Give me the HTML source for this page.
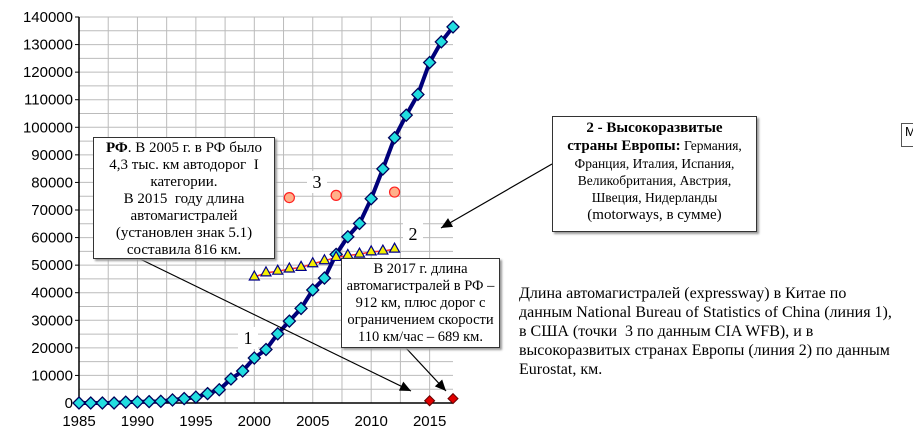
<!DOCTYPE html>
<html><head><meta charset="utf-8"><style>
body{margin:0;background:#fff;width:913px;height:438px;overflow:hidden;position:relative;font-family:"Liberation Serif",serif}
.box{position:absolute;border:1.5px solid #333;background:#fff;text-align:center;font-size:15px;line-height:17px;box-shadow:2px 2px 2px #999;white-space:nowrap}
</style></head><body>
<svg width="913" height="438" style="position:absolute;left:0;top:0">
<g id="grid"></g><g id="axes"></g><g id="series"></g><g id="arrows"></g>
</svg>
<div class="box" style="left:93px;top:137px;width:180px;height:118px;padding-top:2px"><b>РФ</b>. В 2005 г. в РФ было<br>4,3 тыс. км автодорог&nbsp; I<br>категории.<br>В 2015&nbsp; году длина<br>автомагистралей<br>(установлен знак 5.1)<br>составила 816 км.</div>
<div class="box" style="left:341px;top:258px;width:157px;height:86px;padding-top:2px;font-size:14.5px">В 2017 г. длина<br>автомагистралей в РФ –<br>912 км, плюс дорог с<br>ограничением скорости<br>110 км/час – 689 км.</div>
<div class="box" style="left:552px;top:116px;width:203px;height:112px;padding-top:2px;font-size:13.5px"><b style="font-size:15px">2 - Высокоразвитые</b><br><b style="font-size:15px">страны Европы:</b> Германия,<br>Франция, Италия, Испания,<br>Великобритания, Австрия,<br>Швеция, Нидерланды<br><span style="font-size:15px">(motorways, в сумме)</span></div>
<div style="position:absolute;left:519px;top:284px;width:400px;font-size:16px;line-height:19px;white-space:nowrap">Длина автомагистралей (expressway) в Китае по<br>данным National Bureau of Statistics of China (линия 1),<br>в США (точки&nbsp; 3 по данным CIA WFB), и в<br>высокоразвитых странах Европы (линия 2) по данным<br>Eurostat, км.</div>
<div style="position:absolute;left:901px;top:123px;width:20px;height:22px;border:1px solid #555;font-family:'Liberation Sans',sans-serif;font-size:13px;padding-left:3px">M</div>
<script>
const chinaYears=[1985,1986,1987,1988,1989,1990,1991,1992,1993,1994,1995,1996,1997,1998,1999,2000,2001,2002,2003,2004,2005,2006,2007,2008,2009,2010,2011,2012,2013,2014,2015,2016,2017];
const chinaValues=[0,0,0,0,300,400,500,600,1100,1600,2100,3400,4800,8700,11600,16300,19400,25100,29700,34300,41000,45300,53900,60300,65100,74100,84900,96200,104400,111900,123500,131000,136400];
const euroYears=[2000,2001,2002,2003,2004,2005,2006,2007,2008,2009,2010,2011,2012];
const euroValues=[45700,47200,47800,48600,49200,50500,51600,52800,53500,54000,54800,55100,55800];
const usYears=[2003,2007,2012];
const usValues=[74500,75300,76500];
const rfYears=[2015,2017];
const rfValues=[816,1601];
const xTicks=[1985,1990,1995,2000,2005,2010,2015];
const yTicks=[0,10000,20000,30000,40000,50000,60000,70000,80000,90000,100000,110000,120000,130000,140000];
const NS="http://www.w3.org/2000/svg";
const X0=79,X1=453,Y0=403,Y1=17;
const x=v=>X0+(v-1985)/(2017-1985)*(X1-X0);
const y=v=>Y0-v/140000*(Y0-Y1);
function mk(p,t,a){const e=document.createElementNS(NS,t);for(const k in a)e.setAttribute(k,a[k]);document.getElementById(p).appendChild(e);return e;}
for(let v=0;v<=140000;v+=5000){const e=mk('grid','line',{x1:X0,x2:X1,y1:y(v),y2:y(v),stroke:'#bbb','stroke-width':1});

}
for(let v=1985;v<=2017;v+=2.5){const e=mk('grid','line',{x1:x(v),x2:x(v),y1:Y1,y2:Y0,stroke:'#bbb','stroke-width':1});

}
mk('axes','line',{x1:X0,x2:X0,y1:Y1,y2:Y0,stroke:'#000','stroke-width':1.5});
mk('axes','line',{x1:X0,x2:X1,y1:Y0,y2:Y0,stroke:'#000','stroke-width':1.5});
yTicks.forEach(v=>{const t=mk('axes','text',{x:X0-6,y:y(v)+5,'text-anchor':'end','font-size':15,'font-family':'Liberation Sans,sans-serif'});t.textContent=v;


mk('axes','line',{x1:X0-4,x2:X0,y1:y(v),y2:y(v),stroke:'#000'});});
xTicks.forEach(v=>{const t=mk('axes','text',{x:x(v),y:Y0+23,'text-anchor':'middle','font-size':15,'font-family':'Liberation Sans,sans-serif'});t.textContent=v;

});
const cl=mk('series','polyline',{points:chinaYears.map((d,i)=>x(d)+','+y(chinaValues[i])).join(' '),fill:'none',stroke:'#00007a','stroke-width':4,'stroke-linejoin':'round'});


chinaYears.forEach((d,i)=>{const cx=x(d),cy=y(chinaValues[i]);const p=mk('series','polygon',{points:`${cx},${cy-6} ${cx+6},${cy} ${cx},${cy+6} ${cx-6},${cy}`,fill:'#22dde0',stroke:'#00005a','stroke-width':1.3});

});
const el=mk('series','polyline',{points:euroYears.map((d,i)=>x(d)+','+y(euroValues[i])).join(' '),fill:'none',stroke:'#ff3030','stroke-width':1.5});


euroYears.forEach((d,i)=>{const cx=x(d),cy=y(euroValues[i]);const p=mk('series','polygon',{points:`${cx},${cy-6} ${cx+5},${cy+3} ${cx-5},${cy+3}`,fill:'#f5f000',stroke:'#00008a','stroke-width':1.2});

});
usYears.forEach((d,i)=>{const c=mk('series','circle',{cx:x(d),cy:y(usValues[i]),r:5,fill:'#ffb08a',stroke:'#ff2020','stroke-width':1.2});

});
rfYears.forEach((d,i)=>{const cx=x(d),cy=y(rfValues[i]);const p=mk('series','polygon',{points:`${cx},${cy-5} ${cx+5},${cy} ${cx},${cy+5} ${cx-5},${cy}`,fill:'#e00000',stroke:'#600','stroke-width':1});

});
[['1',248,344],['2',413,240],['3',317,188]].forEach(([s,lx,ly])=>{mk('series','rect',{x:lx-10,y:ly-17,width:20,height:22,fill:'#fff'});const t=mk('series','text',{x:lx,y:ly,'text-anchor':'middle','font-size':18,'font-family':'Liberation Serif,serif'});t.textContent=s;

});
function arrow(x1,y1,x2,y2){mk('arrows','line',{x1,y1,x2,y2,stroke:'#000','stroke-width':1.2});const a=Math.atan2(y2-y1,x2-x1),L=11,W=5;
const p1=[x2-L*Math.cos(a)+W*Math.sin(a),y2-L*Math.sin(a)-W*Math.cos(a)],p2=[x2-L*Math.cos(a)-W*Math.sin(a),y2-L*Math.sin(a)+W*Math.cos(a)];
mk('arrows','polygon',{points:`${x2},${y2} ${p1} ${p2}`,fill:'#000'});}
arrow(138,258,411,391);arrow(406,348,446,391);arrow(552,164,441,228);
</script>
</body></html>
